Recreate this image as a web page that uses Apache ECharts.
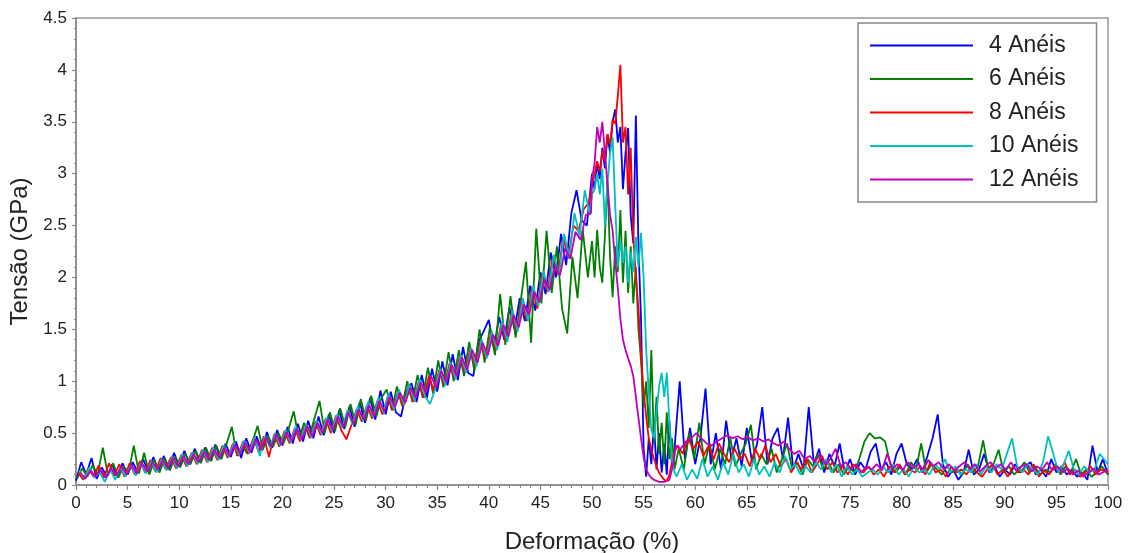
<!DOCTYPE html>
<html>
<head>
<meta charset="utf-8">
<script src="https://cdn.jsdelivr.net/npm/echarts@6/dist/echarts.min.js"></script>
<style>
html,body{margin:0;padding:0;background:#fff;}
#chart{width:1129px;height:553px;}
</style>
</head>
<body>
<div id="chart"></div>
<script>
// Series names
const seriesNames = ['4 Anéis', '6 Anéis', '8 Anéis', '10 Anéis', '12 Anéis'];

// Strain sampling: A = 0..50 step 0.5, B = 50.25..58 step 0.25, C = 58.5..100 step 0.5
// (each specimen's samples are taken at slightly shifted strains)
const sampleShift = [0, 0.1, 0.2, 0.3, 0.4];

// Stress values (GPa)

// 4 Anéis
const blueA = [
0.04,0.22,0.10,0.26,0.06,0.17,0.08,0.20,0.07,0.21,
0.10,0.22,0.12,0.25,0.13,0.27,0.14,0.28,0.15,0.31,
0.18,0.33,0.20,0.35,0.22,0.36,0.24,0.39,0.25,0.40,
0.27,0.42,0.26,0.45,0.31,0.47,0.33,0.51,0.36,0.53,
0.38,0.56,0.40,0.59,0.42,0.62,0.45,0.66,0.48,0.68,
0.50,0.72,0.54,0.76,0.56,0.80,0.60,0.84,0.63,0.91,
0.68,0.90,0.70,0.66,0.90,0.98,0.80,1.06,0.84,1.12,
0.90,1.19,0.96,1.26,1.01,1.33,1.08,1.05,1.38,1.48,
1.59,1.32,1.62,1.40,1.71,1.50,1.80,1.58,1.92,1.68,
2.05,1.84,2.24,2.00,2.42,2.12,2.62,2.84,2.55,2.50,
3.00];
const blueB = [
2.85,3.10,2.95,3.25,3.05,3.38,3.20,3.50,
3.62,3.30,3.45,2.85,3.20,3.44,2.60,2.33,
3.56,2.30,1.60,0.35,0.08,0.45,0.20,0.60,
0.15,0.50,0.12,0.40,0.10,0.62,0.18,0.35];
const blueC = [
1.00,0.25,0.55,0.20,0.45,0.93,0.20,0.50,0.15,0.62,
0.25,0.45,0.18,0.55,0.22,0.40,0.75,0.20,0.45,0.55,
0.25,0.65,0.15,0.30,0.15,0.75,0.20,0.35,0.12,0.30,
0.18,0.40,0.12,0.25,0.10,0.22,0.15,0.32,0.40,0.15,
0.22,0.10,0.30,0.40,0.20,0.15,0.25,0.12,0.28,0.45,
0.68,0.20,0.08,0.15,0.05,0.12,0.34,0.10,0.15,0.30,
0.12,0.18,0.08,0.15,0.10,0.20,0.12,0.18,0.22,0.10,
0.15,0.08,0.25,0.12,0.18,0.10,0.15,0.08,0.12,0.05,
0.38,0.12,0.25,0.10];

// 6 Anéis
const greenA = [
0.06,0.16,0.08,0.19,0.10,0.36,0.09,0.21,0.07,0.18,
0.12,0.38,0.11,0.31,0.10,0.24,0.12,0.26,0.14,0.27,
0.17,0.30,0.20,0.33,0.21,0.36,0.23,0.38,0.25,0.40,
0.56,0.28,0.38,0.30,0.42,0.57,0.34,0.47,0.37,0.50,
0.40,0.54,0.71,0.44,0.60,0.46,0.64,0.81,0.50,0.70,
0.52,0.74,0.56,0.78,0.58,0.83,0.62,0.86,0.66,0.84,
0.92,0.72,0.95,0.76,1.00,0.80,1.06,0.84,1.13,0.88,
1.20,0.94,1.28,1.00,1.30,1.05,1.38,1.10,1.50,1.18,
1.52,1.25,1.84,1.35,1.82,1.42,1.78,2.15,1.37,2.47,
1.75,2.45,1.85,2.30,1.70,1.46,2.20,1.80,2.46,2.00,
2.35];
const greenB = [
2.00,2.46,2.10,1.95,2.40,2.94,2.20,1.81,
2.30,2.05,2.65,1.95,2.45,1.85,2.30,1.75,
2.10,1.50,1.20,0.75,1.00,0.55,1.30,0.40,
0.85,0.30,0.60,0.20,0.70,0.25,0.45,0.15];
const greenC = [
0.35,0.15,0.50,0.25,0.60,0.20,0.40,0.15,0.35,0.20,
0.45,0.18,0.30,0.40,0.58,0.15,0.30,0.20,0.35,0.12,
0.25,0.40,0.15,0.22,0.10,0.25,0.18,0.30,0.15,0.22,
0.12,0.20,0.10,0.18,0.12,0.25,0.42,0.50,0.45,0.46,
0.42,0.20,0.12,0.18,0.10,0.22,0.15,0.40,0.12,0.20,
0.15,0.10,0.18,0.12,0.15,0.10,0.20,0.12,0.18,0.43,
0.15,0.20,0.34,0.12,0.18,0.10,0.15,0.22,0.12,0.18,
0.10,0.15,0.12,0.20,0.10,0.18,0.12,0.25,0.10,0.15,
0.08,0.12,0.18,0.10];

// 8 Anéis
const redA = [
0.12,0.05,0.16,0.08,0.19,0.07,0.21,0.09,0.20,0.08,
0.21,0.10,0.23,0.12,0.24,0.13,0.26,0.15,0.27,0.16,
0.29,0.18,0.31,0.20,0.34,0.22,0.36,0.24,0.38,0.26,
0.40,0.28,0.42,0.30,0.45,0.32,0.47,0.27,0.49,0.37,
0.52,0.40,0.55,0.42,0.58,0.45,0.61,0.48,0.64,0.50,
0.67,0.53,0.44,0.58,0.73,0.61,0.77,0.64,0.81,0.68,
0.85,0.72,0.90,0.76,0.94,0.80,0.99,0.84,1.05,0.90,
1.11,0.96,1.17,1.02,1.24,1.08,1.31,1.14,1.39,1.22,
1.46,1.30,1.56,1.38,1.66,1.48,1.78,1.58,1.91,1.70,
2.04,1.86,2.20,2.02,2.38,2.20,2.50,2.45,2.66,2.72,
2.88];
const redB = [
3.00,3.12,3.02,3.22,3.12,3.38,3.28,3.52,
3.48,3.75,4.05,3.30,3.45,2.80,3.25,2.40,
2.00,1.70,1.25,0.90,0.66,0.45,0.34,0.25,
0.18,0.12,0.08,0.05,0.04,0.10,0.22,0.32];
const redC = [
0.38,0.30,0.45,0.35,0.42,0.28,0.38,0.25,0.40,0.30,
0.22,0.35,0.25,0.30,0.18,0.35,0.25,0.38,0.22,0.30,
0.18,0.25,0.12,0.22,0.15,0.25,0.12,0.20,0.28,0.15,
0.22,0.12,0.18,0.10,0.20,0.15,0.12,0.18,0.10,0.15,
0.08,0.18,0.12,0.20,0.10,0.15,0.12,0.18,0.10,0.22,
0.12,0.15,0.08,0.18,0.12,0.15,0.10,0.18,0.12,0.08,
0.15,0.20,0.10,0.15,0.08,0.18,0.12,0.15,0.10,0.20,
0.08,0.14,0.10,0.18,0.12,0.22,0.10,0.15,0.08,0.12,
0.18,0.10,0.15,0.12];

// 10 Anéis
const cyanA = [
0.14,0.06,0.17,0.07,0.12,0.03,0.15,0.05,0.17,0.08,
0.19,0.09,0.21,0.11,0.23,0.12,0.25,0.14,0.27,0.16,
0.30,0.18,0.32,0.20,0.34,0.22,0.36,0.24,0.38,0.27,
0.41,0.29,0.43,0.31,0.46,0.28,0.47,0.36,0.50,0.38,
0.53,0.41,0.56,0.44,0.59,0.46,0.62,0.49,0.65,0.52,
0.68,0.55,0.72,0.58,0.76,0.62,0.80,0.65,0.84,0.70,
0.88,0.73,0.92,0.77,0.97,0.81,1.02,0.86,0.78,0.92,
1.12,0.96,1.18,1.02,1.25,1.08,1.32,1.14,1.40,1.22,
1.48,1.30,1.58,1.38,1.68,1.48,1.80,1.58,1.92,1.72,
2.06,1.86,2.22,2.02,2.42,2.18,2.62,2.40,2.84,2.60,
2.80];
const cyanB = [
2.85,3.00,2.80,3.05,2.50,2.90,3.20,3.35,
2.70,2.10,2.35,2.14,2.30,1.95,2.25,2.05,
2.39,2.10,2.43,2.00,1.30,0.90,0.53,0.45,
0.70,0.95,1.08,0.85,1.08,0.60,0.25,0.12];
const cyanC = [
0.08,0.20,0.05,0.15,0.06,0.25,0.08,0.18,0.05,0.22,
0.10,0.30,0.12,0.20,0.08,0.25,0.10,0.18,0.08,0.22,
0.12,0.28,0.15,0.20,0.10,0.18,0.12,0.22,0.15,0.25,
0.12,0.20,0.08,0.18,0.10,0.15,0.08,0.12,0.15,0.10,
0.18,0.12,0.20,0.10,0.15,0.08,0.18,0.12,0.15,0.10,
0.20,0.15,0.25,0.12,0.18,0.10,0.15,0.12,0.20,0.10,
0.18,0.12,0.20,0.15,0.30,0.45,0.18,0.12,0.20,0.15,
0.10,0.22,0.47,0.30,0.12,0.20,0.33,0.15,0.10,0.18,
0.12,0.15,0.30,0.20];

// 12 Anéis
const magentaA = [
0.12,0.06,0.14,0.08,0.15,0.07,0.16,0.09,0.18,0.10,
0.19,0.11,0.21,0.13,0.22,0.15,0.24,0.16,0.26,0.18,
0.28,0.20,0.30,0.22,0.32,0.24,0.34,0.26,0.36,0.28,
0.39,0.30,0.41,0.32,0.44,0.34,0.46,0.37,0.49,0.39,
0.51,0.42,0.54,0.44,0.57,0.47,0.60,0.50,0.63,0.53,
0.66,0.56,0.70,0.59,0.73,0.63,0.77,0.66,0.81,0.71,
0.85,0.75,0.89,0.79,0.94,0.84,0.99,0.89,1.05,0.94,
1.10,0.99,1.16,1.05,1.23,1.11,1.30,1.18,1.37,1.25,
1.45,1.34,1.54,1.43,1.64,1.52,1.74,1.64,1.86,1.76,
1.98,1.88,2.12,2.02,2.28,2.18,2.44,2.36,2.60,2.62,
2.95];
const magentaB = [
3.10,3.45,3.30,3.50,3.20,2.90,2.60,2.45,
2.15,1.90,1.60,1.40,1.30,1.22,1.15,1.05,
0.85,0.65,0.45,0.27,0.15,0.10,0.07,0.05,
0.04,0.03,0.03,0.03,0.04,0.05,0.15,0.28];
const magentaC = [
0.38,0.35,0.42,0.45,0.50,0.45,0.40,0.38,0.42,0.45,
0.48,0.45,0.47,0.44,0.46,0.43,0.45,0.42,0.44,0.40,
0.38,0.42,0.35,0.30,0.33,0.25,0.28,0.22,0.30,0.20,
0.25,0.35,0.18,0.22,0.15,0.20,0.12,0.18,0.15,0.20,
0.14,0.30,0.16,0.20,0.14,0.22,0.16,0.20,0.15,0.24,
0.18,0.22,0.15,0.20,0.14,0.18,0.22,0.15,0.20,0.13,
0.18,0.22,0.16,0.20,0.15,0.22,0.14,0.18,0.20,0.13,
0.18,0.15,0.22,0.14,0.18,0.12,0.16,0.10,0.14,0.08,
0.12,0.16,0.10,0.15];

const colors = ['#0000ff', '#008000', '#ff0000', '#00bfbf', '#bf00bf'];

function build(a, b, c, off) {
  const pts = [];
  a.forEach((y, i) => pts.push([i === a.length - 1 ? 50 : i * 0.5 + off, y]));
  b.forEach((y, i) => pts.push([50.25 + i * 0.25, y]));
  c.forEach((y, i) => pts.push([i === c.length - 1 ? 100 : 58.5 - off + i * 0.5, y]));
  return pts;
}
const allData = [
  build(blueA, blueB, blueC, sampleShift[0]),
  build(greenA, greenB, greenC, sampleShift[1]),
  build(redA, redB, redC, sampleShift[2]),
  build(cyanA, cyanB, cyanC, sampleShift[3]),
  build(magentaA, magentaB, magentaC, sampleShift[4])
];

const FONT = 'Liberation Sans, Arial, sans-serif';
const chart = echarts.init(document.getElementById('chart'), null, {renderer: 'canvas'});
chart.setOption({
  animation: false,
  backgroundColor: '#fff',
  grid: {left: 76, right: 21, top: 18, bottom: 68, outerBoundsMode: 'none', containLabel: false,
         show: true, borderColor: '#999', borderWidth: 1.5, backgroundColor: 'transparent'},
  xAxis: {
    type: 'value', min: 0, max: 100, interval: 5,
    name: 'Deformação (%)', nameLocation: 'middle', nameGap: 45,
    nameTextStyle: {fontFamily: FONT, fontSize: 24, color: '#222'},
    axisLine: {lineStyle: {color: '#888', width: 1.5}},
    axisTick: {show: true, inside: false, length: 5, lineStyle: {color: '#888', width: 1.2}},
    minorTick: {show: true, splitNumber: 5, length: 3, lineStyle: {color: '#888', width: 1}},
    splitLine: {show: false},
    axisLabel: {fontFamily: FONT, fontSize: 17, color: '#222', margin: 10}
  },
  yAxis: {
    type: 'value', min: 0, max: 4.5, interval: 0.5,
    name: 'Tensão (GPa)', nameLocation: 'middle', nameGap: 40, nameRotate: 90,
    nameTextStyle: {fontFamily: FONT, fontSize: 24, color: '#222'},
    axisLine: {show: true, lineStyle: {color: '#888', width: 1.5}},
    axisTick: {show: true, inside: false, length: 4, lineStyle: {color: '#888', width: 1.2}},
    minorTick: {show: true, splitNumber: 5, length: 2, lineStyle: {color: '#888', width: 1}},
    splitLine: {show: false},
    axisLabel: {fontFamily: FONT, fontSize: 17, color: '#222', margin: 9}
  },
  legend: {
    orient: 'vertical', left: 858, top: 23,
    backgroundColor: '#fff', borderColor: '#888', borderWidth: 1.5,
    padding: [11, 18, 11, 12],
    itemWidth: 103, itemHeight: 2, itemGap: 10.5,
    icon: 'rect',
    textStyle: {fontFamily: FONT, fontSize: 23, lineHeight: 22, color: '#222', padding: [0, 0, 0, 11]},
    data: seriesNames
  },
  series: seriesNames.map((n, k) => ({
    name: n, type: 'line', data: allData[k],
    showSymbol: false, symbol: 'none',
    color: colors[k],
    lineStyle: {color: colors[k], width: 1.8},
    z: 2 + k
  }))
});
</script>
</body>
</html>
